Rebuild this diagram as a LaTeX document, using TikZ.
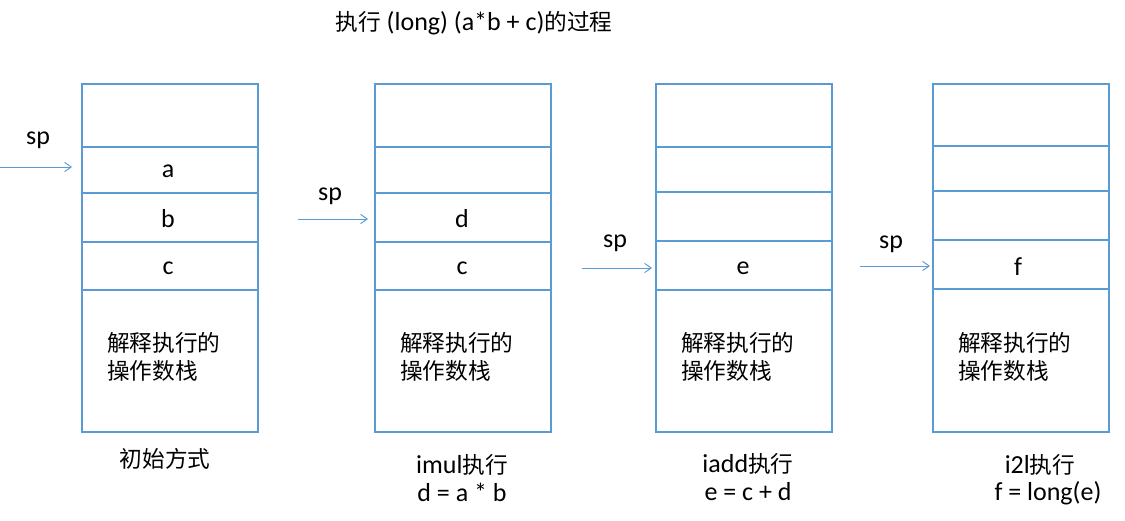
\documentclass[tikz,border=0pt]{standalone}
\usepackage{fontspec}
\setmainfont{Carlito}
\newfontfamily\cjk{Noto Sans CJK SC}
\usetikzlibrary{arrows.meta}
\definecolor{boxblue}{RGB}{91,155,213}
\tikzset{
  px/.style={x=0.75pt,y=-0.75pt},
  cell/.style={draw=boxblue,line width=0.9pt},
  spar/.style={draw=boxblue,line width=0.7pt,-{Straight Barb[length=5pt,width=7pt]}},
  lbl/.style={font=\fontsize{19.5}{21}\selectfont,inner sep=0pt,text=black},
  cjkl/.style={font=\cjk\fontsize{17}{21}\selectfont,inner sep=0pt,text=black},
  two/.style={font=\fontsize{19.5}{20.5}\selectfont,inner sep=0pt,align=center,text=black},
}
\newcommand{\C}[1]{{\cjk\fontsize{17}{21}\selectfont #1}}
\begin{document}
\begin{tikzpicture}[px]
\useasboundingbox (0,0) rectangle (1125,521);
\node[lbl] (title) at (474,23) {\C{执行} (long) (a*b + c)\C{的过程}};

% stack 1
\draw[cell] (82,84) rectangle (258,432);
\foreach \y in {147,193,242,290}{\draw[cell] (82,\y) -- (258,\y);}
\node[lbl] (s1va) at (168,171) {a};
\node[lbl] (s1vb) at (168,219) {b};
\node[lbl] (s1vc) at (168,268) {c};
\node[cjkl,anchor=west,align=left] (s1txt) at (107,357) {解释执行的\\操作数栈};
\node[cjkl] (cap1) at (165,459) {初始方式};
\node[lbl] (sp1) at (38,140) {sp};
\coordinate (sp1s) at (0,167);
\coordinate (sp1e) at (72,167);
\draw[spar] (sp1s) -- (sp1e);

% stack 2
\draw[cell] (375,84) rectangle (551,432);
\foreach \y in {147,193,242,290}{\draw[cell] (375,\y) -- (551,\y);}
\node[lbl] (s2vd) at (462,219) {d};
\node[lbl] (s2vc) at (462,268) {c};
\node[cjkl,anchor=west,align=left] (s2txt) at (400,357) {解释执行的\\操作数栈};
\node[two] (cap2) at (462,478) {imul\C{执行}\\d = a * b};
\node[lbl] (sp2) at (330,196) {sp};
\coordinate (sp2s) at (298,219);
\coordinate (sp2e) at (368,219);
\draw[spar] (sp2s) -- (sp2e);

% stack 3
\draw[cell] (656,84) rectangle (832,432);
\foreach \y in {147,192,241,290}{\draw[cell] (656,\y) -- (832,\y);}
\node[lbl] (s3ve) at (743,268) {e};
\node[cjkl,anchor=west,align=left] (s3txt) at (681,357) {解释执行的\\操作数栈};
\node[two] (cap3) at (748,477) {iadd\C{执行}\\e = c + d};
\node[lbl] (sp3) at (615,243) {sp};
\coordinate (sp3s) at (582,268);
\coordinate (sp3e) at (652,268);
\draw[spar] (sp3s) -- (sp3e);

% stack 4
\draw[cell] (933,84) rectangle (1109,432);
\foreach \y in {146,191,240,289}{\draw[cell] (933,\y) -- (1109,\y);}
\node[lbl] (s4vf) at (1018,267) {f};
\node[cjkl,anchor=west,align=left] (s4txt) at (958,357) {解释执行的\\操作数栈};
\node[lbl] (cap4a) at (1040,465) {i2l\C{执行}};
\node[lbl] (cap4b) at (1048,493) {f = long(e)};
\node[lbl] (sp4) at (891,244) {sp};
\coordinate (sp4s) at (860,266);
\coordinate (sp4e) at (930,266);
\draw[spar] (sp4s) -- (sp4e);
\end{tikzpicture}
\end{document}
